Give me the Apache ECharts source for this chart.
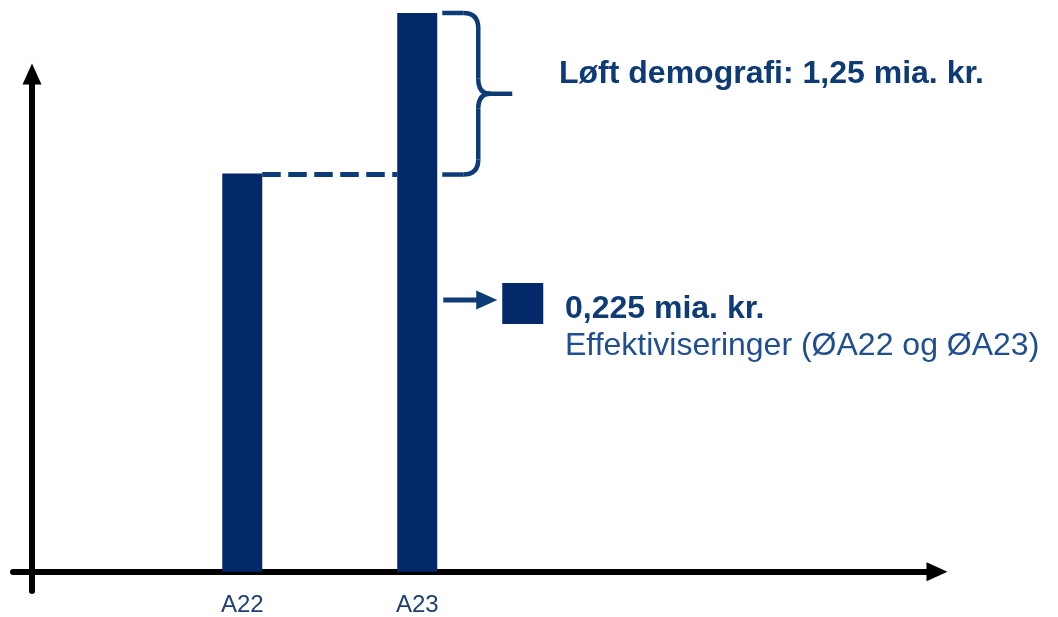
<!DOCTYPE html>
<html>
<head>
<meta charset="utf-8">
<script src="https://cdn.jsdelivr.net/npm/echarts@6/dist/echarts.min.js"></script>
<style>
html, body { margin: 0; padding: 0; background: #fff; }
#chart { width: 1058px; height: 617px; }
</style>
</head>
<body>
<div id="chart"></div>
<script>
// data
var categories = ["A22", "A23"];
var positions = [1, 2];
var values = [3.1, 4.35];
var demografiText = "Løft demografi: 1,25 mia. kr.";
var effektivText = ["0,225 mia. kr.", "Effektiviseringer (ØA22 og ØA23)"];

var navy = "#03296a";
var lineBlue = "#0d3b78";
var font = '"Liberation Sans", Arial, sans-serif';

var chart = echarts.init(document.getElementById("chart"));

var barData = [];
for (var i = 0; i < values.length; i++) {
    barData.push([positions[i], values[i]]);
}

chart.setOption({
    animation: false,
    grid: { left: 13, right: 121, top: 74, bottom: 25, containLabel: false },
    xAxis: {
        type: "value",
        min: -0.31,
        max: 4.97,
        splitLine: { show: false },
        axisTick: { show: false },
        axisLine: {
            show: true,
            onZero: true,
            symbol: ["none", "triangle"],
            symbolSize: [19, 21],
            lineStyle: { color: "#000", width: 6 }
        },
        axisLabel: {
            customValues: positions,
            formatter: function (v) {
                return categories[positions.indexOf(v)] || "";
            },
            margin: 2,
            color: "#1f3f72",
            fontSize: 24,
            fontFamily: font
        }
    },
    yAxis: {
        type: "value",
        min: -0.15,
        max: 3.875,
        offset: -19,
        splitLine: { show: false },
        axisTick: { show: false },
        axisLabel: { show: false },
        axisLine: {
            show: true,
            onZero: false,
            symbol: ["none", "triangle"],
            symbolSize: [19, 21],
            lineStyle: { color: "#000", width: 6 }
        }
    },
    series: [{
        type: "bar",
        data: barData,
        barWidth: 40,
        clip: false,
        itemStyle: { color: navy }
    }]
});

// annotations placed from the bar positions
var p22 = chart.convertToPixel({ gridIndex: 0 }, barData[0]);
var p23 = chart.convertToPixel({ gridIndex: 0 }, barData[1]);
var half = 20;
var yHi = p23[1], yLo = p22[1] + 1, yMid = (yHi + yLo) / 2;
var bx = p23[0] + half + 5;   // brace arm start
var sx = bx + 36;             // brace spine
var r = 15;

function seg(x1, y1, x2, y2) {
    return {
        type: "line", z: 5,
        shape: { x1: x1, y1: y1, x2: x2, y2: y2 },
        style: { stroke: lineBlue, lineWidth: 4.5 }
    };
}
function curve(x1, y1, cx, cy, x2, y2) {
    return {
        type: "bezierCurve", z: 5,
        shape: { x1: x1, y1: y1, cpx1: cx, cpy1: cy, x2: x2, y2: y2 },
        style: { stroke: lineBlue, lineWidth: 4.5, fill: "none" }
    };
}
var brace = [
    seg(bx, yHi, sx - r, yHi),
    curve(sx - r, yHi, sx, yHi, sx, yHi + r),
    seg(sx, yHi + r, sx, yMid - r),
    curve(sx, yMid - r, sx, yMid, sx + 12, yMid),
    seg(sx + 10, yMid, sx + 34, yMid),
    curve(sx + 12, yMid, sx, yMid, sx, yMid + r),
    seg(sx, yMid + r, sx, yLo - r),
    curve(sx, yLo - r, sx, yLo, sx - r, yLo),
    seg(sx - r, yLo, bx, yLo)
];

var ax = p23[0] + half + 6;
var ay = 300;

var graphics = [
    {
        type: "line", z: 5,
        shape: { x1: p22[0] + half, y1: yLo, x2: p23[0] - half, y2: yLo },
        style: { stroke: lineBlue, lineWidth: 5, lineDash: [18.5, 7.5] }
    },
    {
        type: "text",
        style: {
            text: demografiText, x: 559, y: 58,
            font: "bold 32px " + font, fill: "#0e3a75", verticalAlign: "top"
        }
    },
    {
        type: "line",
        shape: { x1: ax, y1: ay, x2: ax + 36, y2: ay },
        style: { stroke: lineBlue, lineWidth: 5 }
    },
    {
        type: "polygon",
        shape: { points: [[ax + 33, ay - 9.5], [ax + 54, ay], [ax + 33, ay + 9.5]] },
        style: { fill: lineBlue }
    },
    {
        type: "rect",
        shape: { x: ax + 59, y: ay - 17, width: 41, height: 41 },
        style: { fill: navy }
    },
    {
        type: "text",
        style: {
            text: effektivText[0], x: 565, y: 293,
            font: "bold 32px " + font, fill: "#0e3a75", verticalAlign: "top"
        }
    },
    {
        type: "text",
        style: {
            text: effektivText[1], x: 565, y: 330,
            font: "32px " + font, fill: "#1f4f8f", verticalAlign: "top"
        }
    }
].concat(brace);

chart.setOption({ graphic: { elements: graphics } });
</script>
</body>
</html>
